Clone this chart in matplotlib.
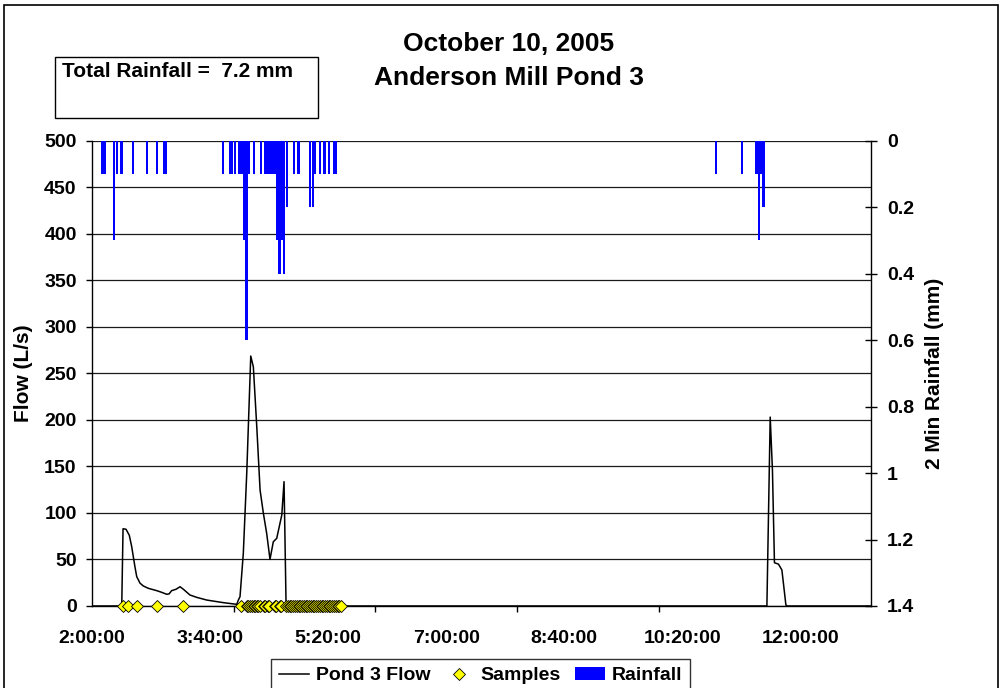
import matplotlib
matplotlib.use("Agg")
import matplotlib.pyplot as plt
from matplotlib.patches import Rectangle

plt.rcParams['font.family'] = ['Liberation Sans', 'DejaVu Sans']
plt.rcParams['font.weight'] = 'bold'

# times are minutes after midnight
flow_t = [120, 145.2, 146.3, 148.8, 151.6, 153.6, 155, 156.4, 157.9, 160.7, 163.5,
          167.7, 174.8, 179, 183.3, 185.3, 187.5, 191.2, 194.6, 197.4, 203, 208.7,
          217.2, 231.3, 242.6, 244, 245.4, 248.2, 251.1, 254.5, 256.7, 259.6, 262.4,
          265.2, 268, 270.8, 273.6, 276.5, 280.8, 282.7, 284.4, 285.3,
          691.8, 694.6, 696.5, 698.2, 701.6, 704.5, 705.8, 707.9, 709, 780]
flow_q = [0, 0, 83, 82.5, 76, 64, 53, 42, 31.5, 24.5, 21.5,
          19, 16.5, 14.7, 12.6, 13, 16.5, 18, 20.7, 18, 11.8, 9.3,
          6.4, 3.6, 1.8, 6.4, 10, 56.6, 142.5, 268.6, 257, 192.7, 124.6,
          99.6, 78, 50.1, 69, 72.7, 97.8, 133.6, 2.9, 0,
          0, 203, 146, 46.5, 45, 38.7, 24.4, 1, 0, 0]

rain_t = [128, 130, 138, 140, 144, 154, 166, 174, 180, 182,
          230, 236, 238, 240, 244, 246, 248, 250, 252, 256, 262, 266, 268, 270,
          272, 274, 276, 278, 280, 282, 284, 290, 294, 304, 306, 308, 312, 316,
          320, 324, 326,
          648, 670, 682, 684, 686, 688]
rain_mm = [0.1, 0.1, 0.3, 0.1, 0.1, 0.1, 0.1, 0.1, 0.1, 0.1,
           0.1, 0.1, 0.1, 0.1, 0.1, 0.1, 0.3, 0.6, 0.1, 0.1, 0.1, 0.1, 0.1, 0.1,
           0.1, 0.1, 0.3, 0.4, 0.3, 0.4, 0.2, 0.1, 0.1, 0.2, 0.2, 0.1, 0.1, 0.1,
           0.1, 0.1, 0.1,
           0.1, 0.1, 0.1, 0.3, 0.1, 0.2]

sample_t = [146, 150.8, 158.4, 174.8, 196.9, 246.3, 251, 252.5, 254, 255.5, 257,
            258.5, 260, 261, 262.4, 265.5, 266.6, 269.3, 270.3, 274.9, 275.9,
            278.9, 279.9, 284.5, 286, 287.5, 289, 290.5, 292, 293.5, 295, 296.5,
            298, 299.5, 301, 302.5, 304, 305.5, 307, 308.5, 310, 311.5, 313,
            314.5, 316, 317.5, 319, 320.5, 322, 323.5, 325, 326.5, 328, 329.5, 330.7]
sample_q = [0] * len(sample_t)

W, H = 1001, 688
fig = plt.figure(figsize=(W / 100, H / 100), dpi=100)
ax = fig.add_axes([92 / W, 1 - 606 / H, (871 - 92) / W, (606 - 140.7) / H])

ax.plot(flow_t, flow_q, color='black', lw=1.1, label='Pond 3 Flow', zorder=3)
ax.plot(sample_t, sample_q, ls='none', marker='D', ms=6.2, mfc='#FFFF00',
        mec='black', mew=0.6, clip_on=False, zorder=6, label='Samples')

ax.set_xlim(120, 780)
ax.set_ylim(0, 500)
ax.set_yticks(range(0, 501, 50))
ax.yaxis.grid(True, color='#1a1a1a', lw=0.9)
ax.set_axisbelow(True)
ax.set_xticks(range(120, 721, 100))
ax.set_xticks(range(120, 721, 120), minor=True)
ax.xaxis.set_major_formatter(lambda v, p: f"{int(v) // 60}:{int(v) % 60:02d}:00")
ax.tick_params(axis='x', which='major', length=0, pad=17, labelsize=14)
ax.tick_params(axis='x', which='minor', length=4.5, width=1, direction='out')
ax.tick_params(axis='y', length=4.5, width=1, pad=6.5, labelsize=14)
for s in ['top', 'right']:
    ax.spines[s].set_visible(False)
for s in ['left', 'bottom']:
    ax.spines[s].set_linewidth(1)
ax.set_ylabel('Flow (L/s)', fontsize=15, fontweight='bold', labelpad=8)

ax2 = ax.twinx()
ax2.bar(rain_t, rain_mm, width=1.85, align='edge', color='#0000FF', lw=0,
        label='Rainfall')
ax2.set_ylim(1.4, 0)
ax2.set_yticks([0, 0.2, 0.4, 0.6, 0.8, 1.0, 1.2, 1.4])
ax2.yaxis.set_major_formatter(lambda v, p: f"{v:g}")
ax2.tick_params(axis='y', length=8, width=1, direction='inout', pad=7.5, labelsize=14)
for s in ['top', 'left', 'bottom']:
    ax2.spines[s].set_visible(False)
ax2.spines['right'].set_linewidth(1)
ax2.set_ylabel('2 Min Rainfall (mm)', fontsize=15, fontweight='bold', labelpad=8)

h1, l1 = ax.get_legend_handles_labels()
h2, l2 = ax2.get_legend_handles_labels()
leg = fig.legend(h1 + h2, l1 + l2, ncol=3, loc='upper center',
                 bbox_to_anchor=(480.5 / W, 1 - 659 / H), fontsize=14,
                 frameon=True, fancybox=False, edgecolor='black',
                 handlelength=1.55, handletextpad=0.35, columnspacing=0.7,
                 borderpad=0.4, borderaxespad=0)
leg.get_frame().set_linewidth(1)

fig.text(509 / W, 1 - 44 / H, 'October 10, 2005', ha='center', va='center', fontsize=19)
fig.text(509 / W, 1 - 78 / H, 'Anderson Mill Pond 3', ha='center', va='center', fontsize=19)

fig.add_artist(Rectangle((55 / W, 1 - 118 / H), 263 / W, 61 / H, transform=fig.transFigure,
                         fill=False, ec='black', lw=1))
fig.text(62 / W, 1 - 62 / H, 'Total Rainfall =  7.2 mm', ha='left', va='top', fontsize=15)

fig.add_artist(Rectangle((3.5 / W, -0.05), (W - 7) / W, 1.05 - 4.5 / H, transform=fig.transFigure,
                         fill=False, ec='black', lw=1.2))

fig.savefig('out.png', dpi=100)
